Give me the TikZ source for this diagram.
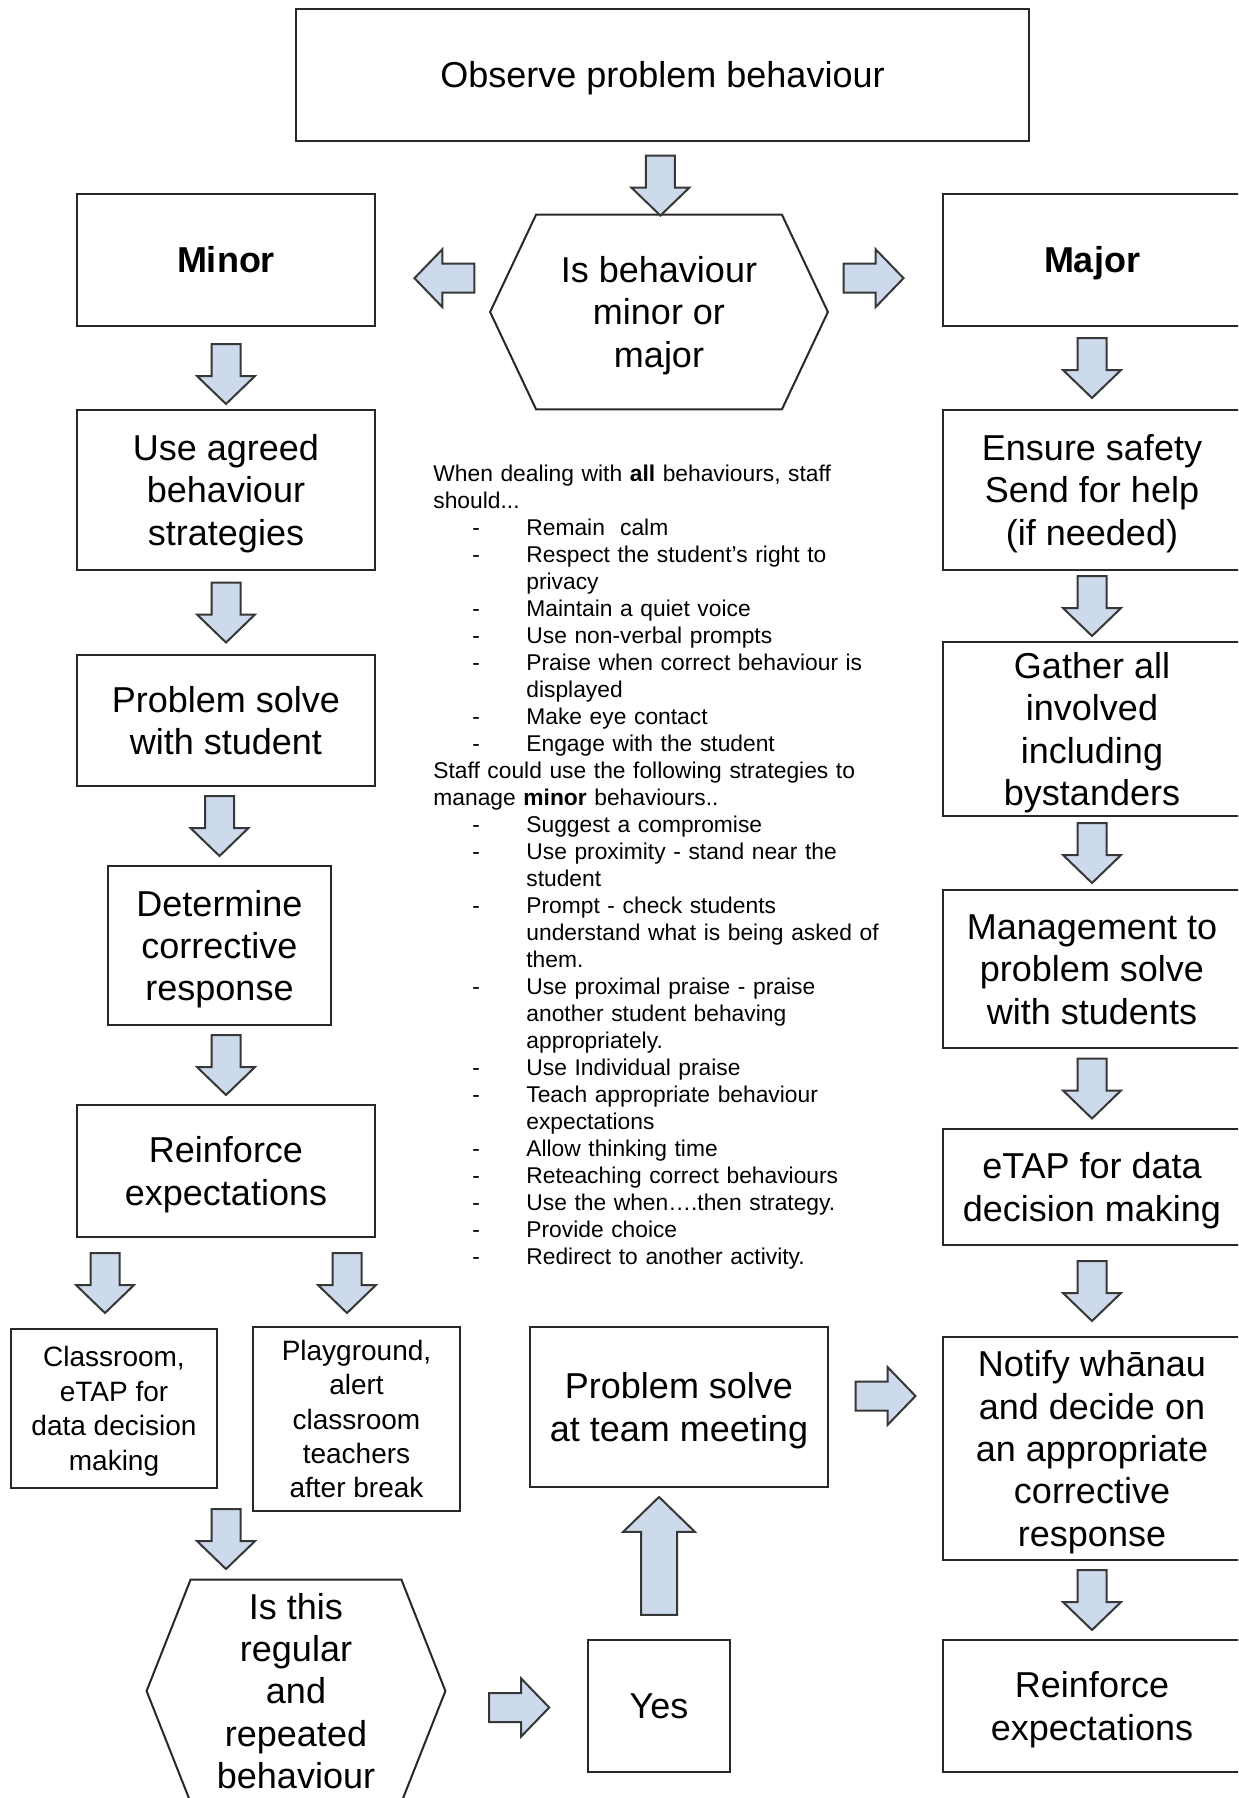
\documentclass[tikz,border=0pt]{standalone}
\usepackage{fontspec}
\setmainfont{Liberation Sans}
\usetikzlibrary{calc}

\definecolor{arrowfill}{RGB}{204,218,235}
\definecolor{arrowline}{RGB}{55,55,55}
\definecolor{boxline}{RGB}{40,40,40}

\newcommand{\bigtxt}{\fontsize{18}{21.2}\selectfont}
\newcommand{\smalltxt}{\fontsize{14}{17.2}\selectfont}
\newcommand{\notetxt}{\fontsize{11.4}{13.5}\selectfont}
% struts so every box is centred on its cap height
\newcommand{\lb}[1]{\rule{0pt}{17.5pt}#1\rule[-4.6pt]{0pt}{4.6pt}}
\newcommand{\lbs}[1]{\rule{0pt}{13.6pt}#1\rule[-3.6pt]{0pt}{3.6pt}}
\newcommand{\itm}[1]{\par\hangindent=46.5pt\hangafter=1\noindent\makebox[46.5pt][l]{\hspace{19.5pt}-}#1}

\begin{document}
\begin{tikzpicture}[x=0.5pt,y=-0.5pt]
\tikzset{sz/.style 2 args = {minimum width=#1*0.5pt, minimum height=#2*0.5pt}}
\tikzset{framed/.style = {draw=boxline, line width=1pt, inner sep=0pt, align=center}}
\tikzset{box/.style = {framed, font=\bigtxt}}
\tikzset{smallbox/.style = {framed, font=\smalltxt}}
\tikzset{hexlbl/.style = {inner sep=0pt, align=center, font=\bigtxt}}
\tikzset{hexline/.style = {draw=boxline, line width=1pt, line join=miter}}
\tikzset{arrowblk/.style = {draw=arrowline, fill=arrowfill, line width=1pt, line join=miter}}
\tikzset{pics/blockarr/.style n args = {3}{code = {
  \draw[arrowblk] (-#2/4,-#1/2) -- (#2/4,-#1/2) -- (#2/4,#1/2-#3) -- (#2/2,#1/2-#3)
    -- (0,#1/2) -- (-#2/2,#1/2-#3) -- (-#2/4,#1/2-#3) -- cycle;}}}
\useasboundingbox (0,0) rectangle (1238,1798);
\clip (0,0) rectangle (1238,1798);
\fill[white] (0,0) rectangle (1238,1798);

% boxes
\node[box, sz={733}{132}] (observe) at (662.5,75) {\lb{Observe problem behaviour}};
\node[box, sz={298}{132}, font=\bigtxt\bfseries] (minor) at (226,260) {\lb{Minor}};
\node[hexlbl, sz={337}{194}] (qtype) at (659,312) {\lb{Is behaviour\\minor or\\major}};
\node[box, sz={298}{132}, font=\bigtxt\bfseries] (major) at (1092,260) {\lb{Major}};

\node[box, sz={298}{160}] (agreed) at (226,490) {\lb{Use agreed\\behaviour\\strategies}};
\node[box, sz={298}{131}] (solve) at (226,720.5) {\lb{Problem solve\\with student}};
\node[box, sz={223}{159}] (determine) at (219.5,945.5) {\lb{Determine\\corrective\\response}};
\node[box, sz={298}{132}] (reinforceL) at (226,1171) {\lb{Reinforce\\expectations}};
\node[smallbox, sz={206}{159}] (classroom) at (114,1408.5) {\lbs{Classroom,\\eTAP for\\data decision\\making}};
\node[smallbox, sz={207}{184}] (playground) at (356.5,1419) {\lbs{Playground,\\alert\\classroom\\teachers\\after break}};
\node[hexlbl, sz={298}{222}] (qrepeat) at (296,1691) {\lb{Is this\\regular\\and\\repeated\\behaviour}};
\node[box, sz={142}{132}] (yes) at (659,1706) {\lb{Yes}};
\node[box, sz={298}{160}] (team) at (679,1407) {\lb{Problem solve\\at team meeting}};

\node[box, sz={298}{160}] (safety) at (1092,490) {\lb{Ensure safety\\Send for help\\(if needed)}};
\node[box, sz={298}{174}] (gather) at (1092,729) {\lb{Gather all\\involved\\including\\bystanders}};
\node[box, sz={298}{158}] (manage) at (1092,969) {\lb{Management to\\problem solve\\with students}};
\node[box, sz={298}{116}] (etap) at (1092,1187) {\lb{eTAP for data\\decision making}};
\node[box, sz={298}{223}] (notify) at (1092,1448.5) {\lb{Notify whānau\\and decide on\\an appropriate\\corrective\\response}};
\node[box, sz={298}{132}] (reinforceR) at (1092,1706) {\lb{Reinforce\\expectations}};

% hexagons
\foreach \h/\d in {qtype/46, qrepeat/44}
  \draw[hexline] (\h.west) -- ($(\h.north west)+(\d,0)$) -- ($(\h.north east)+(-\d,0)$)
    -- (\h.east) -- ($(\h.south east)+(-\d,0)$) -- ($(\h.south west)+(\d,0)$) -- cycle;

% guidance text
\node[anchor=north west, inner sep=0pt, text width=230pt, align=left, font=\notetxt] (guide) at (433,465) {%
\noindent When dealing with \textbf{all} behaviours, staff\newline should...
\itm{Remain\ \ calm}
\itm{Respect the student’s right to\newline privacy}
\itm{Maintain a quiet voice}
\itm{Use non-verbal prompts}
\itm{Praise when correct behaviour is\newline displayed}
\itm{Make eye contact}
\itm{Engage with the student}
\par\noindent Staff could use the following strategies to\newline manage \textbf{minor} behaviours..
\itm{Suggest a compromise}
\itm{Use proximity - stand near the\newline student}
\itm{Prompt - check students\newline understand what is being asked of\newline them.}
\itm{Use proximal praise - praise\newline another student behaving\newline appropriately.}
\itm{Use Individual praise}
\itm{Teach appropriate behaviour\newline expectations}
\itm{Allow thinking time}
\itm{Reteaching correct behaviours}
\itm{Use the when….then strategy.}
\itm{Provide choice}
\itm{Redirect to another activity.}\par};

% arrows
\pic at ($(observe.south)!0.6!(qtype.north)$) {blockarr={60}{58}{28}};
\pic[rotate=-90] at ($(minor.east)!0.6!(qtype.west)+(0,-13)$) {blockarr={60}{58}{28}};
\pic[rotate=90] at ($(qtype.east)!0.4!(major.west)+(0,-13)$) {blockarr={60}{58}{28}};

\pic at ($(minor.south)!0.5!(agreed.north)+(0,6)$) {blockarr={60}{58}{28}};
\foreach \a/\b in {agreed/solve, solve/determine, determine/reinforceL,
  major/safety, safety/gather, gather/manage, manage/etap, etap/notify, notify/reinforceR}
  \pic at ($(\a.south -| \b.north)!0.5!(\b.north)$) {blockarr={60}{58}{28}};

\pic at ($(reinforceL.south west)+(29,45)$) {blockarr={60}{58}{28}};
\pic at ($(reinforceL.south east)+(-29,45)$) {blockarr={60}{58}{28}};
\coordinate (gapR) at ($(playground.south)!0.4!(qrepeat.north)$);
\pic at (reinforceL.south |- gapR) {blockarr={60}{58}{28}};
\pic[rotate=90] at ($(qrepeat.east)!0.5!(yes.west)+(3,9)$) {blockarr={60}{58}{28}};
\coordinate (gapY) at ($(team.south)!0.45!(yes.north)$);
\pic[rotate=180] at (yes.north |- gapY) {blockarr={118}{72}{35}};
\pic[rotate=90] at ($(team.east)!0.5!(notify.west |- team.east)+(0,-11)$) {blockarr={60}{58}{28}};

\end{tikzpicture}
\end{document}
